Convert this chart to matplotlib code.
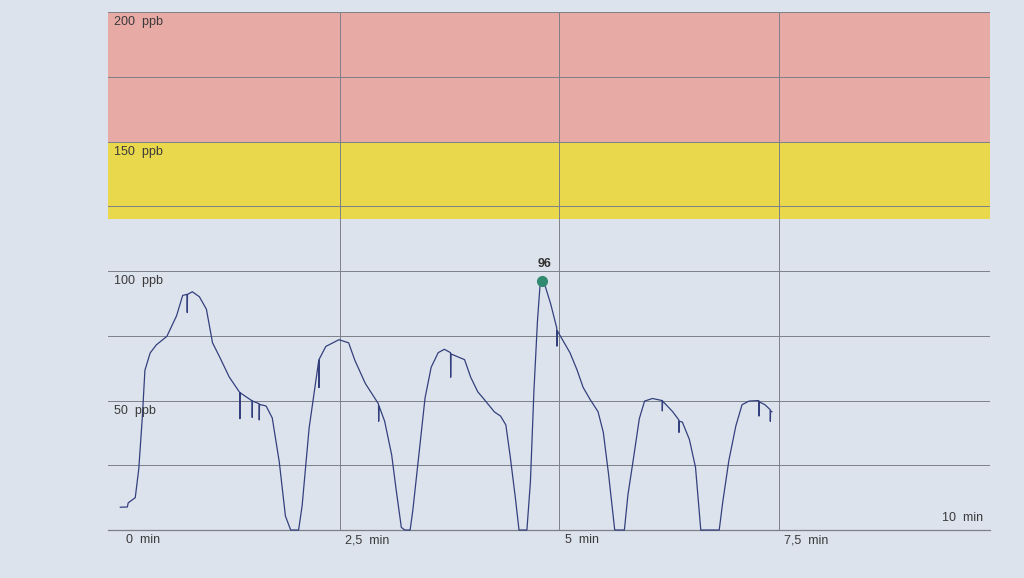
import matplotlib.pyplot as plt
import numpy as np

plt.rcParams['font.family'] = ['Liberation Sans', 'DejaVu Sans']

# ozone trace (minutes, ppb)
t_min = [0.00, 0.08, 0.09, 0.17, 0.21, 0.25, 0.28, 0.34, 0.41, 0.53,
         0.64, 0.71, 0.76, 0.762, 0.765, 0.82, 0.90, 0.98, 1.05, 1.13,
         1.24, 1.36, 1.362, 1.365, 1.50, 1.502, 1.505, 1.58, 1.582, 1.585,
         1.66, 1.73, 1.81, 1.88, 1.94, 2.03, 2.07, 2.15, 2.26, 2.262,
         2.265, 2.34, 2.49, 2.60, 2.67, 2.79, 2.94, 2.942, 2.945, 3.01,
         3.09, 3.14, 3.20, 3.24, 3.30, 3.33, 3.39, 3.47, 3.54, 3.62,
         3.69, 3.76, 3.762, 3.765, 3.80, 3.92, 3.99, 4.07, 4.14, 4.26,
         4.33, 4.39, 4.44, 4.50, 4.54, 4.63, 4.67, 4.71, 4.75, 4.78,
         4.80, 4.84, 4.90, 4.97, 4.972, 4.975, 5.05, 5.12, 5.20, 5.27,
         5.35, 5.44, 5.50, 5.56, 5.63, 5.74, 5.78, 5.84, 5.91, 5.97,
         6.06, 6.17, 6.172, 6.175, 6.29, 6.36, 6.362, 6.365, 6.40, 6.48,
         6.55, 6.61, 6.82, 6.86, 6.93, 7.01, 7.08, 7.16, 7.27, 7.272,
         7.275, 7.34, 7.40, 7.402, 7.405, 7.42]
ppb = [8.8, 8.9, 10.5, 12.5, 23.6, 43.3, 61.7, 68.4, 71.5, 74.8,
       82.7, 90.6, 91.0, 84.0, 91.0, 92.0, 90.1, 85.3, 72.3, 66.9,
       59.1, 53.1, 43.0, 53.0, 49.9, 43.5, 49.8, 48.8, 42.5, 48.5,
       47.9, 43.3, 26.3, 5.4, 0.0, 0.0, 9.3, 39.4, 65.6, 55.0,
       66.0, 70.9, 73.5, 72.3, 65.6, 56.6, 48.7, 42.0, 48.0, 42.0,
       29.0, 15.8, 1.0, 0.0, 0.0, 7.4, 26.0, 51.0, 62.9, 68.5,
       69.8, 68.5, 59.0, 68.0, 67.5, 65.8, 59.0, 53.4, 50.6, 45.6,
       44.0, 40.6, 28.4, 12.0, 0.0, 0.0, 18.7, 53.8, 80.6, 94.8,
       96.0, 94.0, 87.4, 78.0, 71.0, 77.0, 72.6, 68.5, 61.9, 55.1,
       50.4, 45.7, 37.7, 21.5, 0.0, 0.0, 13.5, 26.9, 43.0, 49.8,
       50.8, 50.0, 46.0, 49.8, 45.7, 42.5, 37.7, 42.0, 41.7, 35.0,
       24.2, 0.0, 0.0, 10.8, 26.9, 40.3, 48.4, 49.8, 50.0, 44.0,
       49.5, 48.4, 46.5, 42.0, 46.0, 45.7]

peak_t, peak_v = 4.80, 96

bands = [(120, 150, '#ead84c'), (150, 200, '#e8aaa4')]
grid_y = [25, 50, 75, 100, 125, 150, 175, 200]
ylabels = {200: '200  ppb', 150: '150  ppb', 100: '100  ppb', 50: '50  ppb'}
xticks = [0, 2.5, 5, 7.5, 10]
xticklabels = ['0  min', '2,5  min', '5  min', '7,5  min', '10  min']

paper = '#dde3ec'
fig = plt.figure(figsize=(10.24, 5.78), dpi=100, facecolor=paper)
ax = fig.add_axes([0.1055, 0.083, 0.861, 0.896])
ax.set_facecolor(paper)
ax.set_xlim(-0.14, 9.9)
ax.set_ylim(0, 200)

for lo, hi, c in bands:
    ax.axhspan(lo, hi, color=c, lw=0, zorder=0)
for g in grid_y:
    ax.axhline(g, color='#7d8088', lw=0.7, zorder=1)
ax.axhline(0, color='#7d8088', lw=0.9, zorder=1, clip_on=False)
for x in xticks[1:-1]:
    ax.axvline(x, color='#7d8088', lw=0.7, zorder=1)

ax.plot(t_min, ppb, color='#34407e', lw=0.9, zorder=3, clip_on=False)
ax.plot([peak_t], [peak_v], 'o', color='#2f8a6f', ms=7, zorder=4)
ax.annotate(str(peak_v), (peak_t, peak_v), xytext=(2, 8), textcoords='offset points',
            ha='center', va='bottom', fontsize=9, fontweight='bold', color='#333333')

for v, s in ylabels.items():
    ax.annotate(s, (-0.14, v), xytext=(4, -3), textcoords='offset points',
                ha='left', va='top', fontsize=9, color='#3a3a3a')

for x, s in zip(xticks, xticklabels):
    if x == xticks[-1]:
        # last label sits at the right edge of the plot
        ax.annotate(s, (1, 0), xycoords='axes fraction', xytext=(-5, 4),
                    textcoords='offset points', ha='right', va='bottom',
                    fontsize=9, color='#3a3a3a', annotation_clip=False)
    else:
        ax.annotate(s, (x, 0), xytext=(4, -3), textcoords='offset points',
                    ha='left', va='top', fontsize=9, color='#3a3a3a',
                    annotation_clip=False)

ax.set_xticks([])
ax.set_yticks([])
for sp in ax.spines.values():
    sp.set_visible(False)

fig.savefig('out.png', dpi=100, facecolor=paper)
